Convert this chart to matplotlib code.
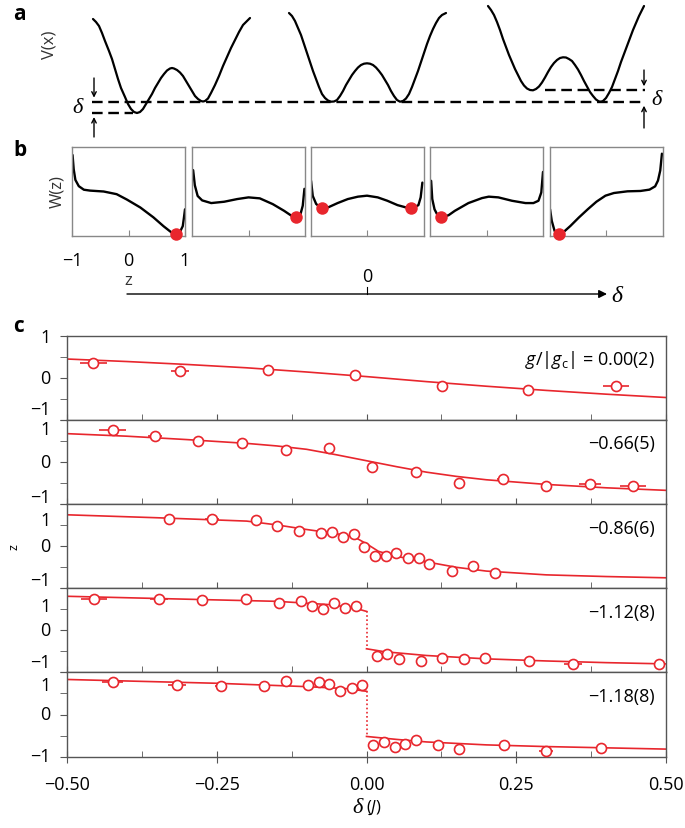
import numpy as np
import matplotlib.pyplot as plt

plt.rcParams['font.family'] = ['Open Sans', 'DejaVu Sans']
plt.rcParams['mathtext.fontset'] = 'custom'
plt.rcParams['mathtext.rm'] = 'Open Sans'
plt.rcParams['mathtext.it'] = 'Open Sans:italic'

RED = '#e8262d'
W_PX, H_PX = 685, 829

# ---------------- panel a: tilted double wells (sketch, pixel coords, y down)
well1_x = [93, 96, 99, 102, 105, 109, 112, 115, 118, 121, 125, 128, 131, 134, 137, 140, 143, 146, 149, 152, 155,
           158, 161, 164, 167, 170, 172, 174, 177, 180, 183, 186, 189, 192, 195, 198, 201, 203, 205, 208, 211,
           215, 219, 223, 227, 231, 235, 239, 243, 247, 250]
well1_y = [20, 23, 27, 34, 42, 52, 60, 70, 80, 89, 98, 105, 110, 113, 114, 113, 110, 105, 100, 95, 89,
           84, 79, 75, 71.5, 69.5, 69, 69.5, 71, 73.5, 77, 82, 87, 92, 97, 100, 102, 102.5, 102, 99.5, 94,
           86, 77, 67, 58, 49, 41, 33, 26, 22, 19]
well2_x = [289, 292, 295, 298, 301, 304, 307, 310, 313, 316, 319, 322, 325, 328, 331, 334, 337, 340, 343, 346,
           349, 352, 355, 358, 361, 364, 367, 370, 373, 376, 379, 382, 385, 388, 391, 394, 397, 400, 403, 406,
           409, 412, 415, 418, 421, 424, 427, 430, 433, 436, 439, 442, 446]
well2_y = [14, 17, 22, 29, 36, 45, 54, 63, 72, 80, 88, 95, 99, 101.5, 102.7, 102.5, 101, 97, 92, 86,
           81, 76, 72, 68.5, 66, 64.7, 64.3, 64.7, 66, 68.5, 72, 76, 81, 86, 92, 97, 101, 102.7, 102, 99.5,
           95, 88, 80, 72, 63, 54, 45, 37, 30, 24, 19, 16, 14]
well3_x = [488, 491, 494, 497, 500, 503, 506, 509, 512, 515, 518, 521, 524, 527, 530, 533, 536, 539, 542, 545,
           548, 551, 554, 557, 560, 563, 566, 569, 572, 575, 578, 581, 584, 587, 590, 593, 596, 599, 601, 603,
           606, 609, 612, 615, 618, 621, 624, 627, 630, 633, 636, 639, 642, 644]
well3_y = [7, 11, 16, 23, 31, 40, 48, 56, 63, 70, 76, 82, 86.5, 89.5, 91, 91.3, 90, 87.5, 83.5, 78.5,
           73, 68, 64, 61, 59, 58.3, 58.5, 60, 62, 66, 70.5, 76, 82, 87.5, 93, 97, 100.5, 102.5, 102.7, 102,
           99, 94, 88, 80, 72, 63, 55, 47, 39, 31, 24, 17, 11, 7]

# ---------------- panel b: W(z) sketches, z in [-1, 1], W normalised to box
w_z = [
    [-0.99, -0.97, -0.94, -0.88, -0.79, -0.68, -0.44, -0.21, -0.03, 0.21, 0.44, 0.62, 0.76, 0.84, 0.91, 0.96, 0.98, 1.0],
    [-0.98, -0.95, -0.90, -0.82, -0.66, -0.43, -0.20, 0.0, 0.20, 0.43, 0.63, 0.78, 0.86, 0.92, 0.96, 0.99],
    [-0.99, -0.96, -0.90, -0.81, -0.69, -0.52, -0.34, -0.16, 0.0, 0.19, 0.36, 0.54, 0.69, 0.81, 0.91, 0.95, 0.98],
    [-0.98, -0.96, -0.92, -0.86, -0.79, -0.67, -0.56, -0.32, -0.08, 0.04, 0.21, 0.45, 0.69, 0.83, 0.92, 0.97, 1.0],
    [-0.99, -0.96, -0.91, -0.84, -0.75, -0.63, -0.48, -0.32, -0.17, -0.01, 0.14, 0.38, 0.61, 0.77, 0.87, 0.92, 0.96, 0.99],
]
w_val = [
    [0.91, 0.75, 0.63, 0.56, 0.52, 0.51, 0.50, 0.47, 0.41, 0.32, 0.21, 0.11, 0.04, 0.02, 0.045, 0.11, 0.2, 0.3],
    [0.74, 0.57, 0.45, 0.40, 0.37, 0.385, 0.415, 0.434, 0.423, 0.358, 0.283, 0.219, 0.208, 0.245, 0.34, 0.53],
    [0.62, 0.45, 0.36, 0.313, 0.321, 0.37, 0.415, 0.442, 0.453, 0.434, 0.396, 0.347, 0.321, 0.313, 0.347, 0.434, 0.60],
    [0.62, 0.415, 0.30, 0.226, 0.208, 0.234, 0.283, 0.37, 0.426, 0.442, 0.434, 0.396, 0.37, 0.37, 0.396, 0.49, 0.72],
    [0.30, 0.17, 0.057, 0.015, 0.045, 0.113, 0.208, 0.302, 0.385, 0.453, 0.483, 0.502, 0.506, 0.521, 0.558, 0.623, 0.736, 0.925],
]
dot_z = [[0.84], [0.84], [-0.79, 0.78], [-0.81], [-0.84]]
dot_w = [[0.026], [0.215], [0.313, 0.313], [0.208], [0.02]]

# ---------------- panel c: z vs delta for five interaction strengths
g_labels = [r'$g/|g_\mathrm{c}|$ = 0.00(2)', '\u22120.66(5)', '\u22120.86(6)', '\u22121.12(8)', '\u22121.18(8)']

d1 = [-0.456, -0.311, -0.165, -0.019, 0.126, 0.270, 0.416]
z1 = [0.36, 0.16, 0.18, 0.06, -0.19, -0.29, -0.19]
e1 = [0.023, 0.015, 0.005, 0.005, 0.005, 0.005, 0.022]

d2 = [-0.424, -0.353, -0.281, -0.208, -0.135, -0.063, 0.010, 0.082, 0.154, 0.228, 0.300, 0.373, 0.445]
z2 = [0.76, 0.62, 0.50, 0.45, 0.28, 0.33, -0.13, -0.23, -0.49, -0.40, -0.56, -0.53, -0.56]
e2 = [0.022, 0.012, 0.005, 0.005, 0.005, 0.005, 0.005, 0.005, 0.005, 0.010, 0.008, 0.018, 0.022]

d3 = [-0.330, -0.258, -0.185, -0.149, -0.113, -0.076, -0.058, -0.039, -0.021, -0.005, 0.014, 0.032, 0.050, 0.069, 0.087, 0.105, 0.142, 0.177, 0.214]
z3 = [0.66, 0.65, 0.63, 0.49, 0.37, 0.31, 0.33, 0.21, 0.29, -0.01, -0.22, -0.22, -0.16, -0.28, -0.27, -0.42, -0.59, -0.46, -0.64]
e3 = [0.005, 0.012, 0.005, 0.005, 0.005, 0.005, 0.005, 0.005, 0.005, 0.005, 0.005, 0.005, 0.005, 0.005, 0.005, 0.005, 0.005, 0.005, 0.005]

d4 = [-0.455, -0.346, -0.274, -0.201, -0.146, -0.110, -0.091, -0.073, -0.055, -0.036, -0.018,
      0.017, 0.035, 0.054, 0.091, 0.126, 0.162, 0.198, 0.272, 0.344, 0.489]
z4 = [0.75, 0.75, 0.71, 0.75, 0.65, 0.69, 0.59, 0.51, 0.65, 0.54, 0.57,
      -0.61, -0.57, -0.69, -0.72, -0.67, -0.69, -0.65, -0.73, -0.81, -0.80]
e4 = [0.022, 0.015, 0.005, 0.005, 0.005, 0.005, 0.005, 0.005, 0.005, 0.005, 0.005,
      0.005, 0.005, 0.005, 0.005, 0.005, 0.005, 0.005, 0.005, 0.015, 0.005]

d5 = [-0.424, -0.317, -0.243, -0.171, -0.135, -0.098, -0.080, -0.062, -0.044, -0.025, -0.007,
      0.011, 0.029, 0.047, 0.065, 0.083, 0.120, 0.155, 0.229, 0.300, 0.391]
z5 = [0.77, 0.71, 0.67, 0.67, 0.79, 0.71, 0.77, 0.72, 0.56, 0.63, 0.69,
      -0.72, -0.66, -0.76, -0.70, -0.60, -0.72, -0.81, -0.72, -0.87, -0.79]
e5 = [0.018, 0.015, 0.010, 0.005, 0.005, 0.005, 0.005, 0.005, 0.005, 0.005, 0.005,
      0.005, 0.005, 0.005, 0.005, 0.005, 0.005, 0.005, 0.005, 0.012, 0.005]

# theory curves; panels 4 and 5 have two branches
fit_d = [
    [[-0.5, -0.4, -0.3, -0.2, -0.1, 0.0, 0.1, 0.2, 0.3, 0.4, 0.5]],
    [[-0.5, -0.4, -0.3, -0.2, -0.15, -0.1, -0.05, 0.0, 0.05, 0.1, 0.15, 0.2, 0.3, 0.4, 0.5]],
    [[-0.5, -0.35, -0.2, -0.15, -0.1, -0.05, -0.02, 0.0, 0.02, 0.05, 0.1, 0.15, 0.2, 0.3, 0.4, 0.5]],
    [[-0.5, -0.27, -0.15, -0.06, -0.02, 0.0], [0.0, 0.03, 0.1, 0.2, 0.3, 0.4, 0.5]],
    [[-0.5, -0.25, -0.1, -0.03, 0.0], [0.0, 0.05, 0.1, 0.2, 0.3, 0.4, 0.5]],
]
fit_z = [
    [[0.45, 0.39, 0.32, 0.24, 0.14, 0.03, -0.09, -0.20, -0.30, -0.39, -0.47]],
    [[0.67, 0.61, 0.53, 0.44, 0.38, 0.30, 0.17, 0.03, -0.11, -0.24, -0.34, -0.42, -0.53, -0.61, -0.67]],
    [[0.75, 0.68, 0.60, 0.51, 0.40, 0.30, 0.22, 0.06, -0.12, -0.24, -0.37, -0.50, -0.59, -0.68, -0.72, -0.75]],
    [[0.81, 0.73, 0.69, 0.61, 0.53, 0.45], [-0.44, -0.51, -0.60, -0.68, -0.73, -0.77, -0.80]],
    [[0.83, 0.74, 0.66, 0.61, 0.55], [-0.52, -0.59, -0.65, -0.72, -0.76, -0.79, -0.82]],
]

pts_d = [d1, d2, d3, d4, d5]
pts_z = [z1, z2, z3, z4, z5]
pts_e = [e1, e2, e3, e4, e5]

xticks_c = [-0.5, -0.25, 0.0, 0.25, 0.5]
xticklabels_c = ['\u22120.50', '\u22120.25', '0.00', '0.25', '0.50']


fig = plt.figure(figsize=(W_PX / 100, H_PX / 100), dpi=100)


def px_axes(x0, y0, x1, y1):
    return fig.add_axes([x0 / W_PX, 1 - y1 / H_PX, (x1 - x0) / W_PX, (y1 - y0) / H_PX])


# overlay in pixel coordinates for the sketches of panel a and labels
ov = fig.add_axes([0, 0, 1, 1])
ov.set_xlim(0, W_PX)
ov.set_ylim(H_PX, 0)
ov.axis('off')

for wx, wy in [(well1_x, well1_y), (well2_x, well2_y), (well3_x, well3_y)]:
    ov.plot(wx, wy, color='black', lw=1.6, solid_capstyle='round', solid_joinstyle='round')

# dashed levels sit at the well minima
lvl_main = max(well2_y)
lvl_low = max(well1_y)
lvl_high = max(y for x, y in zip(well3_x, well3_y) if x < 560)
dash = (0, (4.5, 2.4))
ov.plot([92, 645], [lvl_main, lvl_main], color='black', lw=1.7, ls=dash)
ov.plot([92, 133], [lvl_low, lvl_low], color='black', lw=1.7, ls=dash)
ov.plot([545, 645], [lvl_high, lvl_high], color='black', lw=1.7, ls=dash)

arr = dict(arrowstyle='->', color='black', lw=1.0, mutation_scale=8, shrinkA=0, shrinkB=0)
ov.annotate('', xy=(94, lvl_main - 4), xytext=(94, 79), arrowprops=arr)
ov.annotate('', xy=(94, lvl_low + 4), xytext=(94, 138), arrowprops=arr)
ov.annotate('', xy=(644, lvl_high - 4), xytext=(644, 71), arrowprops=arr)
ov.annotate('', xy=(644, lvl_main + 4), xytext=(644, 129), arrowprops=arr)
ov.text(83, 108, '\u03b4', family='Liberation Serif', style='italic', fontsize=16, ha='right', va='center')
ov.text(651, 100, '\u03b4', family='Liberation Serif', style='italic', fontsize=16, ha='left', va='center')
ov.text(50, 45, 'V(x)', rotation=90, fontsize=12, ha='center', va='center', color='#333333')

# panel labels
for lab, (lx, ly) in zip(['a', 'b', 'c'], [(13, 14), (13, 150), (13, 326)]):
    ov.text(lx, ly, lab, fontsize=15, fontweight='bold', ha='left', va='center')

# ---------------- panel b
box_left = [72, 192, 310.5, 430, 549.5]
for i in range(5):
    ax = px_axes(box_left[i], 148, box_left[i] + 113, 237)
    ax.plot(w_z[i], w_val[i], color='black', lw=1.7, solid_capstyle='round', solid_joinstyle='round')
    ax.plot(dot_z[i], dot_w[i], 'o', color=RED, ms=9, mec='none', clip_on=False, zorder=5)
    ax.set_xlim(-1, 1)
    ax.set_ylim(0, 1)
    ax.set_yticks([])
    for s in ax.spines.values():
        s.set_color('#888888')
        s.set_linewidth(1.0)
    ax.tick_params(axis='x', direction='in', length=4, color='#888888', labelsize=13, pad=11)
    if i == 0:
        ax.set_xticks([-1, 0, 1])
        ax.set_xticklabels(['\u22121', '0', '1'])
    else:
        ax.set_xticks([0])
        ax.set_xticklabels([])

ov.text(57, 192, 'W(z)', rotation=90, fontsize=12, ha='center', va='center', color='#333333')
ov.text(128, 281, 'z', fontsize=12, ha='center', va='center', color='#333333')
ov.text(367, 277, '0', fontsize=13, ha='center', va='center')
ov.annotate('', xy=(607, 295), xytext=(127, 295),
            arrowprops=dict(arrowstyle='-|>', color='black', lw=1.0, mutation_scale=12, shrinkA=0, shrinkB=0))
ov.plot([367, 367], [288, 295], color='black', lw=0.8)
ov.text(611, 296, '\u03b4', family='Liberation Serif', style='italic', fontsize=17, ha='left', va='center')

# ---------------- panel c
tops = [337, 420.7, 505.3, 589.3, 673.3, 757.7]
ylab_pos = [[0.98, 0, -0.74], [0.79, 0, -0.83], [0.62, 0, -0.80], [0.57, 0, -0.76], [0.70, 0, -0.98]]
for i in range(5):
    ax = px_axes(67, tops[i], 666, tops[i + 1])
    for fd, fz in zip(fit_d[i], fit_z[i]):
        ax.plot(fd, fz, color=RED, lw=1.2, zorder=2)
    if len(fit_d[i]) == 2:
        ax.plot([fit_d[i][0][-1], fit_d[i][1][0]], [fit_z[i][0][-1], fit_z[i][1][0]],
                color=RED, lw=1.2, ls=(0, (1, 1.5)), zorder=2)
    ax.errorbar(pts_d[i], pts_z[i], xerr=pts_e[i], fmt='o', ms=7.2, mfc='white', mec=RED,
                mew=1.2, ecolor=RED, elinewidth=1.2, capsize=0, zorder=3)
    ax.set_xlim(-0.5, 0.5)
    ax.set_ylim(-1, 1)
    for s in ax.spines.values():
        s.set_color('#555555')
        s.set_linewidth(1.0)
    ax.set_yticks([-1, 0, 1])
    ax.set_yticks([-0.5, 0.5], minor=True)
    ax.set_yticklabels([])
    ax.tick_params(axis='y', which='both', direction='out', length=5, color='#555555')
    for val, lab in zip(ylab_pos[i], ['1', '0', '\u22121']):
        ax.text(-0.028, val, lab, transform=ax.get_yaxis_transform(), ha='right', va='center', fontsize=13)
    ax.set_xticks(xticks_c)
    ax.set_xticks([-0.375, -0.125, 0.125, 0.375], minor=True)
    ax.tick_params(axis='x', which='both', direction='in', length=4, color='#555555')
    if i == 4:
        ax.set_xticklabels(xticklabels_c)
        ax.tick_params(axis='x', which='major', direction='inout', length=8, labelsize=13, pad=9)
    else:
        ax.set_xticklabels([])
    ax.text(0.982, 0.72, g_labels[i], transform=ax.transAxes, ha='right', va='center', fontsize=13)

ov.text(14, 547, 'z', rotation=90, fontsize=9, ha='center', va='center')
ov.text(363, 809, '\u03b4', family='Liberation Serif', style='italic', fontsize=16, ha='right', va='center')
ov.text(366, 808, r'($J$)', fontsize=12, ha='left', va='center')

fig.savefig('out.png', dpi=100)
